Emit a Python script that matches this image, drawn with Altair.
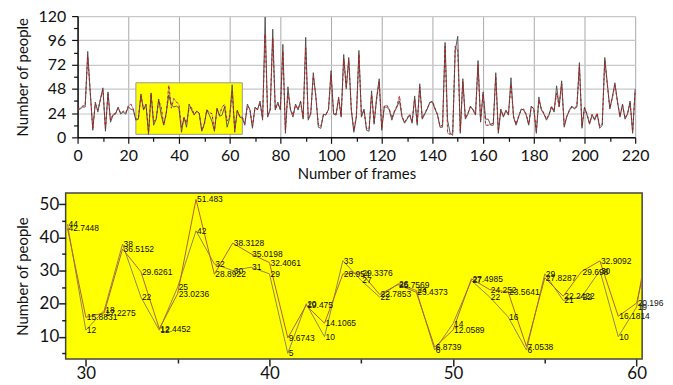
import altair as alt
import pandas as pd

frames = list(range(221))

truth = [27, 28, 30, 30, 85, 45, 7, 35, 25, 38, 49, 6, 45, 15, 22, 23, 30, 23, 25, 23,
         30, 28, 27, 17, 18, 43, 27, 32, 3,
         44, 12, 18, 38, 22, 12, 25, 42, 32, 30, 31, 29, 5, 20, 10, 33, 27, 22, 26, 24,
         6, 14, 27, 22, 16, 6, 29, 21, 22, 30, 10, 19,
         52, 5, 27, 20, 19, 12, 33, 27, 9, 30, 27, 36, 17, 119, 20, 27, 107, 27, 35, 27,
         92, 4, 50, 27, 20, 33, 27, 36, 18, 99, 17, 23, 64, 40, 10, 9, 23, 22, 28, 66,
         23, 22, 40, 20, 82, 48, 79, 27, 5, 20, 86, 20, 28, 7, 6, 46, 13, 40, 58, 7,
         30, 30, 27, 17, 25, 30, 36, 20, 14, 18, 22, 14, 41, 12, 53, 18, 23, 28, 35, 35,
         28, 22, 10, 10, 94, 17, 4, 2, 86, 100, 4, 58, 18, 23, 31, 27, 22, 76, 15, 45,
         18, 18, 12, 12, 64, 4, 27, 20, 27, 22, 59, 20, 12, 20, 28, 27, 22, 12, 31, 28,
         4, 40, 27, 23, 17, 22, 30, 25, 51, 31, 56, 10, 20, 27, 31, 28, 30, 74, 9, 30,
         22, 13, 22, 17, 23, 9, 12, 79, 54, 28, 40, 54, 36, 20, 33, 18, 23, 36, 4, 48]

pred = [28, 29, 31, 32, 80, 44, 9, 33, 27, 37, 47, 9, 43, 17, 23, 24, 29, 24, 26, 24,
        31, 33, 28, 18, 19, 41, 28, 33, 5,
        42.7448, 15.8831, 17.2275, 36.5152, 29.6261, 12.4452, 23.0236, 51.483, 28.8922,
        38.3128, 35.0198, 32.4061, 9.6743, 19.475, 14.1065, 28.954, 29.3376, 22.7853,
        25.7569, 23.4373, 6.8739, 12.0589, 27.4985, 24.252, 23.5641, 7.0538, 27.8287,
        22.2422, 29.698, 32.9092, 16.1814, 20.196,
        45, 8, 26, 21, 20, 14, 31, 28, 11, 29, 28, 34, 19, 102, 22, 28, 98, 28, 33, 28,
        85, 7, 44, 28, 22, 32, 28, 35, 20, 88, 19, 24, 60, 42, 12, 11, 22, 23, 27, 62,
        24, 23, 38, 21, 78, 50, 76, 28, 7, 21, 82, 21, 27, 9, 8, 42, 15, 38, 55, 9,
        31, 32, 28, 19, 26, 31, 41, 21, 15, 19, 23, 16, 38, 14, 50, 19, 24, 29, 34, 36,
        29, 23, 11, 12, 90, 4, 3, 5, 90, 86, 6, 55, 19, 24, 30, 28, 23, 72, 17, 43,
        12, 12, 13, 14, 60, 6, 28, 21, 26, 23, 52, 21, 13, 21, 27, 28, 23, 13, 30, 29,
        6, 37, 28, 24, 18, 23, 31, 26, 44, 30, 53, 12, 21, 26, 30, 29, 31, 70, 11, 29,
        23, 14, 23, 18, 24, 11, 13, 76, 52, 29, 39, 52, 35, 21, 32, 19, 24, 34, 6, 46]

rect_x = [23, 65]
rect_y = [3, 54]

zoom_start, zoom_end = 29, 61
label_last = 60

FONT = "Lato"

df = pd.DataFrame({"frame": frames, "truth": truth, "pred": pred})
zdf = df[(df.frame >= zoom_start) & (df.frame <= zoom_end)].copy()
ldf = zdf[zdf.frame <= label_last].copy()
rdf = pd.DataFrame({"frame": [rect_x[0]], "x2": [rect_x[1]], "truth": [rect_y[0]], "y2": [rect_y[1]]})

TOP_SHIFT = 12
TOP_W = 561

xs = alt.Scale(domain=[0, 220], nice=False, range=[TOP_SHIFT, TOP_SHIFT + TOP_W])
ys = alt.Scale(domain=[0, 120], nice=False)

top_xaxis = alt.Axis(
    title="Number of frames", values=list(range(0, 221, 10)),
    labelExpr="datum.value % 20 === 0 ? datum.label : ''",
    tickSize={"condition": {"test": "datum.value % 20 === 0", "value": 6}, "value": 4},
    gridOpacity={"condition": {"test": "datum.value % 20 === 0", "value": 1}, "value": 0},
    grid=True, gridColor="#a8a8a8", gridWidth=1,
    domainColor="#111", domainWidth=1.5, tickColor="#111", tickWidth=1.2,
    labelFont=FONT, labelFontSize=16, labelColor="#111", labelFlush=False, labelOverlap=False,
    labelPadding=4, titleFont=FONT, titleFontSize=15, titleFontWeight="normal", titleColor="#111",
    titlePadding=3,
)
top_yaxis = alt.Axis(
    title="Number of people", values=list(range(0, 121, 12)), offset=-TOP_SHIFT,
    labelExpr="datum.value % 24 === 0 ? datum.label : ''",
    tickSize={"condition": {"test": "datum.value % 24 === 0", "value": 6}, "value": 4},
    gridOpacity={"condition": {"test": "datum.value % 24 === 0", "value": 1}, "value": 0},
    grid=True, gridColor="#c8c8c8", gridWidth=1.2,
    domainColor="#111", domainWidth=1.5, tickColor="#111", tickWidth=1.2,
    labelFont=FONT, labelFontSize=16, labelColor="#111", labelFlush=False, labelOverlap=False,
    labelPadding=6, titleFont=FONT, titleFontSize=15, titleFontWeight="normal", titleColor="#111",
    titlePadding=8,
)

TX = alt.X("frame:Q", scale=xs, axis=top_xaxis)


def TY(field):
    return alt.Y(field, scale=ys, axis=top_yaxis)


base = alt.Chart(df)
rect = alt.Chart(rdf).mark_rect(fill="#ffff00", stroke="#999999", strokeWidth=1).encode(
    x=TX, x2="x2", y=TY("truth:Q"), y2="y2")
l_pred = base.mark_line(color="#a0a0a0", strokeWidth=0.9).encode(x=TX, y=TY("pred:Q"))
l_truth = base.mark_line(color="#4a4a4a", strokeWidth=0.9).encode(x=TX, y=TY("truth:Q"))
l_red = base.mark_line(color="#e00000", strokeWidth=0.9, strokeDash=[2, 3]).encode(
    x=TX, y=TY("pred:Q"))

top = alt.layer(rect, l_pred, l_truth, l_red).properties(
    width=TOP_SHIFT + TOP_W, height=122, view=alt.ViewBackground(stroke=None))

bxs = alt.Scale(domain=[28.9, 60.3], nice=False)
bys = alt.Scale(domain=[3.3, 53.4], nice=False)
bot_xaxis = alt.Axis(
    title=None, values=list(range(30, 61, 5)),
    labelExpr="datum.value % 10 === 0 ? datum.label : ''",
    tickSize={"condition": {"test": "datum.value % 10 === 0", "value": 7}, "value": 4},
    grid=False, domain=False, tickColor="#222", tickWidth=1.5,
    labelFont=FONT, labelFontSize=17, labelColor="#111", labelFlush=False, labelOverlap=False,
    labelPadding=0,
)
bot_yaxis = alt.Axis(
    title="Number of people", values=list(range(5, 51, 5)),
    labelExpr="datum.value % 10 === 0 ? datum.label : ''",
    tickSize={"condition": {"test": "datum.value % 10 === 0", "value": 7}, "value": 4},
    grid=False, domain=False, tickColor="#222", tickWidth=1.5,
    labelFont=FONT, labelFontSize=17, labelColor="#111", labelFlush=False, labelOverlap=False,
    labelPadding=0, titleFont=FONT, titleFontSize=15, titleFontWeight="normal", titleColor="#111",
    titlePadding=9,
)

BX = alt.X("frame:Q", scale=bxs, axis=bot_xaxis)


def BY(field):
    return alt.Y(field, scale=bys, axis=bot_yaxis)


zb = alt.Chart(zdf)
zl_truth = zb.mark_line(color="#8a8758", strokeWidth=1, clip=True).encode(x=BX, y=BY("truth:Q"))
zl_pred = zb.mark_line(color="#b4602c", strokeWidth=1, clip=True).encode(x=BX, y=BY("pred:Q"))
lb = alt.Chart(ldf)
t_truth = lb.mark_text(align="left", baseline="middle", dx=1, fontSize=8.5,
                       font="Liberation Sans", color="#111").encode(
    x=BX, y=BY("truth:Q"), text="truth:N")
t_pred = lb.mark_text(align="left", baseline="middle", dx=1, fontSize=8.5,
                      font="Liberation Sans", color="#111").encode(
    x=BX, y=BY("pred:Q"), text="pred:N")

bottom = alt.layer(zl_truth, zl_pred, t_truth, t_pred).properties(
    width=580, height=167,
    view=alt.ViewBackground(fill="#ffff00", stroke="#444444", strokeWidth=1.5))

chart = alt.vconcat(top, bottom, spacing=11).properties(
    padding={"left": 6, "top": -1, "right": 0, "bottom": 0}
).configure(background="white").configure_axis(labelOverlap=False)

chart.save("out.html", embed_options={"renderer": "svg", "actions": False})
